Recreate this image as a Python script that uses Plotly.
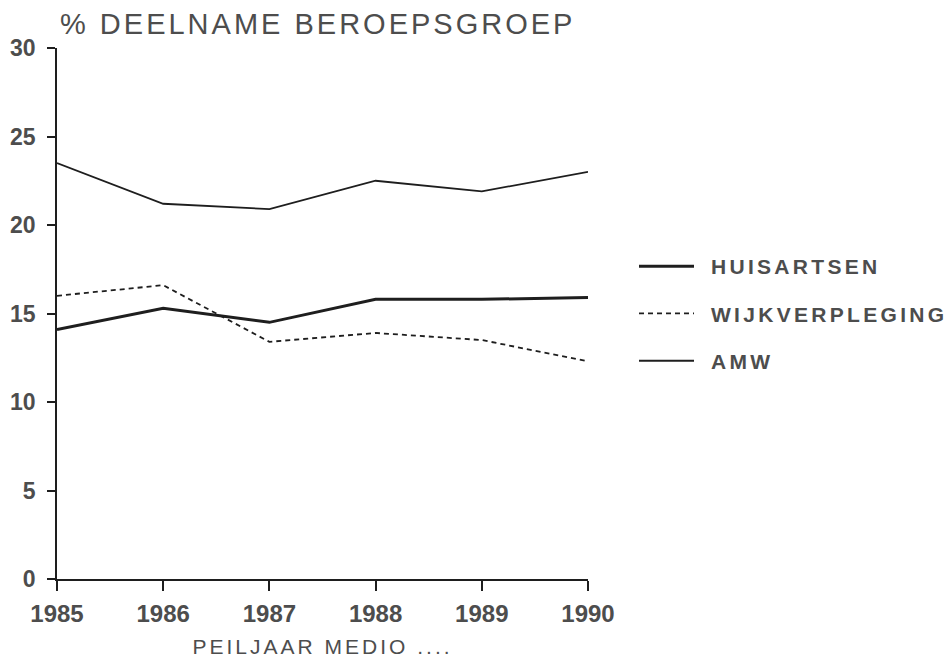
import plotly.graph_objects as go

years = [1985, 1986, 1987, 1988, 1989, 1990]
huisartsen = [14.1, 15.3, 14.5, 15.8, 15.8, 15.9]
wijkverpleging = [16.0, 16.6, 13.4, 13.9, 13.5, 12.3]
amw = [23.5, 21.2, 20.9, 22.5, 21.9, 23.0]

y_ticks = [0, 5, 10, 15, 20, 25, 30]
title_text = "% DEELNAME BEROEPSGROEP"
x_title = "PEILJAAR MEDIO ...."

LINE = "#1e1e1e"
TXT = "#4d4d4d"
FONT = "Liberation Sans"

W, H = 944, 649  # page body has an 8px margin
L, T, R, B = 49, 40, 364, 78

fig = go.Figure()
fig.add_trace(go.Scatter(x=years, y=huisartsen, mode="lines", name="HUISARTSEN",
                         line=dict(color=LINE, width=3.0), legendgroup="a"))
fig.add_trace(go.Scatter(x=years, y=wijkverpleging, mode="lines", name="WIJKVERPLEGING",
                         line=dict(color=LINE, width=1.8, dash="5px,4px"), legendgroup="b"))
fig.add_trace(go.Scatter(x=years, y=amw, mode="lines", name="AMW",
                         line=dict(color=LINE, width=1.8), legendgroup="c"))

plot_w = W - L - R
fig.update_layout(
    width=W, height=H,
    paper_bgcolor="white", plot_bgcolor="white",
    margin=dict(l=L, r=R, t=T, b=B, pad=0, autoexpand=False),
    font=dict(family=FONT, color=TXT, size=20),
    title=dict(text=title_text, x=52 / W, xanchor="left", xref="container",
               y=1 - 16 / H, yanchor="middle", yref="container",
               font=dict(family=FONT, size=29, color=TXT)),
    showlegend=True,
    legend=dict(x=(626 - L) / plot_w, xanchor="left", y=0.5, yanchor="middle",
                font=dict(family=FONT, size=21, color=TXT, weight="bold"),
                tracegroupgap=17, itemwidth=55, bgcolor="rgba(0,0,0,0)"),
    xaxis=dict(range=[1985, 1990], tickvals=years, ticktext=[str(y) for y in years],
               showline=True, linecolor=LINE, linewidth=1.5, ticks="outside",
               ticklen=10, tickwidth=1.5, tickcolor=LINE, showgrid=False, zeroline=False,
               ticklabelstandoff=2, automargin=False,
               tickfont=dict(family=FONT, size=24, color=TXT, weight="bold")),
    yaxis=dict(range=[0, 30], tickvals=y_ticks, showline=True, linecolor=LINE,
               linewidth=1.5, ticks="outside", ticklen=8, tickwidth=1.5, tickcolor=LINE,
               showgrid=False, zeroline=False, ticklabelstandoff=7, automargin=False,
               tickfont=dict(family=FONT, size=23, color=TXT, weight="bold")),
    annotations=[dict(text=x_title, xref="paper", yref="paper", x=0.5, y=0,
                      xanchor="center", yanchor="middle", yshift=-67, showarrow=False,
                      font=dict(family=FONT, size=21, color=TXT))],
)

post = """
var gd = document.getElementById('{plot_id}');
function sp(sel, v){ gd.querySelectorAll(sel).forEach(function(t){ t.style.letterSpacing = v; }); }
sp('.gtitle', '3px');
sp('.legendtext', '3.3px');
sp('.annotation-text', '3px');
gd.querySelectorAll('.legend [clip-path]').forEach(function(e){ e.removeAttribute('clip-path'); });
gd.querySelectorAll('.legendtext').forEach(function(t){
  t.setAttribute('x', parseFloat(t.getAttribute('x')) + 12);
});
"""

fig.write_html("out.html", post_script=post)
